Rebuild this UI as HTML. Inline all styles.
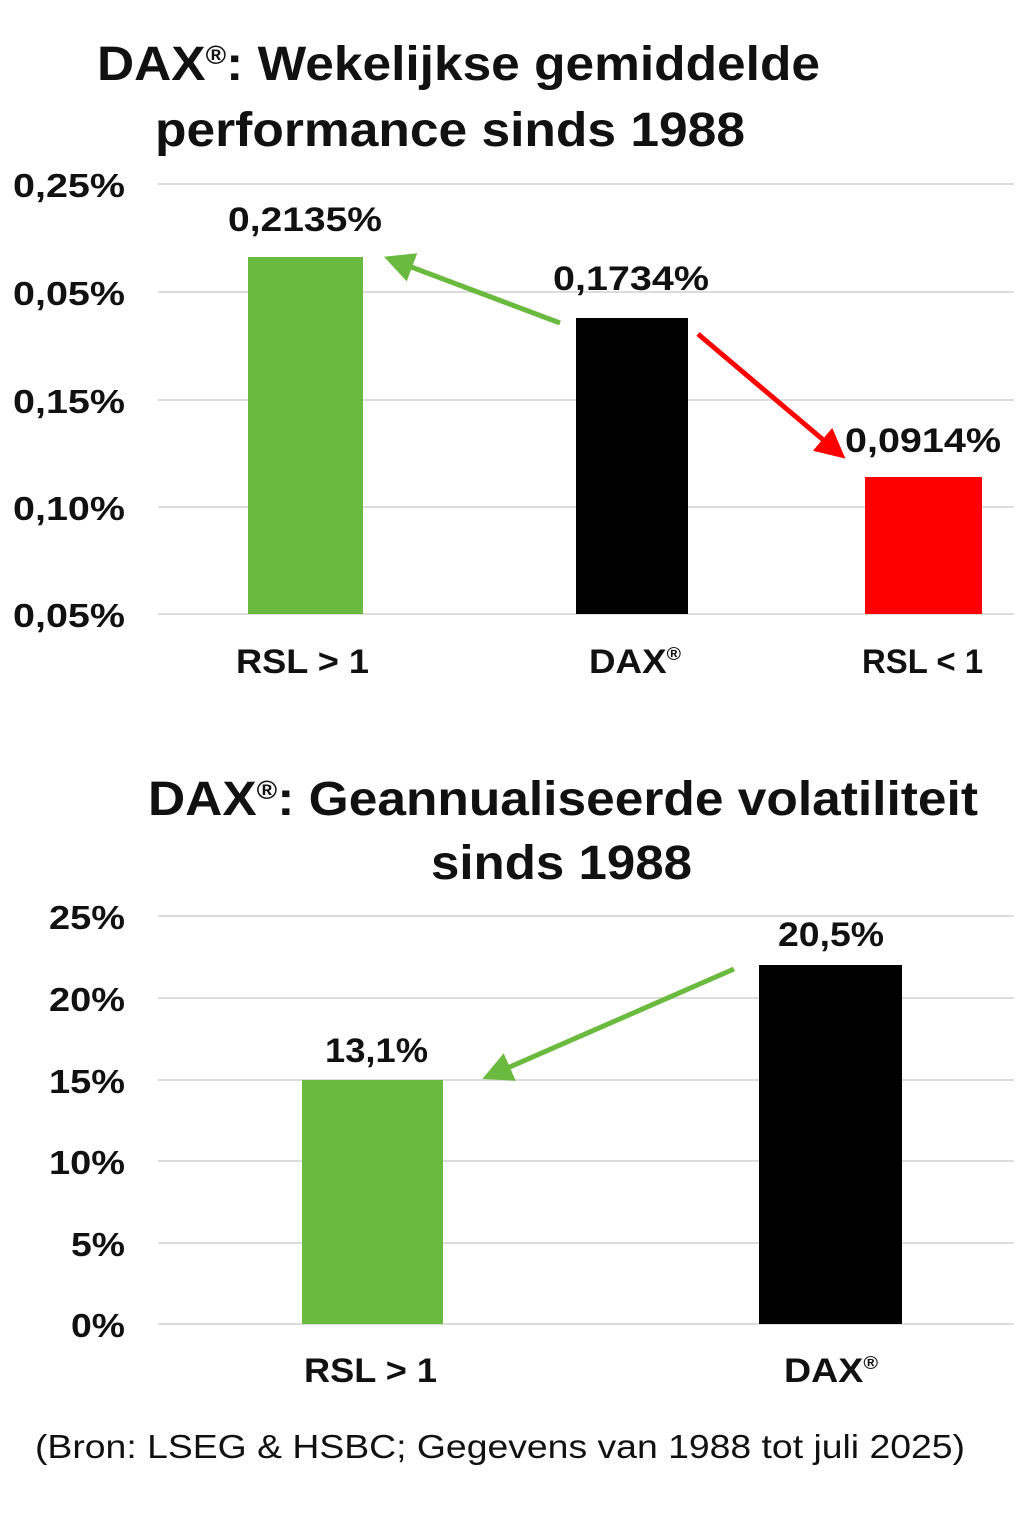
<!DOCTYPE html>
<html><head><meta charset="utf-8"><style>
html,body{margin:0;padding:0;background:#fff;}
svg{display:block;}
text{font-family:"Liberation Sans",sans-serif;fill:#111;}
</style></head><body>
<svg width="1024" height="1536" viewBox="0 0 1024 1536">
<defs>
<marker id="ag" markerWidth="6" markerHeight="6" refX="3" refY="3" orient="auto" markerUnits="strokeWidth"><path d="M0,0 L6,3 L0,6 z" fill="#6aba3f"/></marker>
<marker id="ar" markerWidth="6" markerHeight="6" refX="3" refY="3" orient="auto" markerUnits="strokeWidth"><path d="M0,0 L6,3 L0,6 z" fill="#ff0000"/></marker>
</defs>
<text x="97" y="80" font-size="48" font-weight="bold" textLength="723" lengthAdjust="spacingAndGlyphs">DAX<tspan font-size="26" dy="-16">®</tspan><tspan dy="16">: Wekelijkse gemiddelde</tspan></text>
<text x="155" y="146" font-size="48" font-weight="bold" textLength="590" lengthAdjust="spacingAndGlyphs">performance sinds 1988</text>
<g stroke="#dcdcdc" stroke-width="2">
<line x1="158" y1="184" x2="1014" y2="184"/><line x1="158" y1="292" x2="1014" y2="292"/>
<line x1="158" y1="400" x2="1014" y2="400"/><line x1="158" y1="507" x2="1014" y2="507"/>
<line x1="158" y1="614" x2="1014" y2="614"/>
</g>
<g font-size="33" font-weight="bold">
<text x="13" y="197" textLength="112" lengthAdjust="spacingAndGlyphs">0,25%</text>
<text x="13" y="305" textLength="112" lengthAdjust="spacingAndGlyphs">0,05%</text>
<text x="13" y="413" textLength="112" lengthAdjust="spacingAndGlyphs">0,15%</text>
<text x="13" y="520" textLength="112" lengthAdjust="spacingAndGlyphs">0,10%</text>
<text x="13" y="627" textLength="112" lengthAdjust="spacingAndGlyphs">0,05%</text>
</g>
<rect x="248" y="257" width="115" height="357" fill="#6aba3f"/>
<rect x="576" y="318" width="112" height="296" fill="#000"/>
<rect x="865" y="477" width="117" height="137" fill="#ff0000"/>
<g font-size="34" font-weight="bold">
<text x="228" y="231" textLength="154" lengthAdjust="spacingAndGlyphs">0,2135%</text>
<text x="553" y="290" textLength="156" lengthAdjust="spacingAndGlyphs">0,1734%</text>
<text x="845" y="452" textLength="156" lengthAdjust="spacingAndGlyphs">0,0914%</text>
</g>
<line x1="560" y1="323" x2="398" y2="262" stroke="#6aba3f" stroke-width="5" marker-end="url(#ag)"/>
<line x1="698" y1="334" x2="834" y2="449" stroke="#ff0000" stroke-width="5" marker-end="url(#ar)"/>
<g font-size="34" font-weight="bold">
<text x="236" y="673" textLength="133" lengthAdjust="spacingAndGlyphs">RSL &gt; 1</text>
<text x="589" y="673" textLength="92" lengthAdjust="spacingAndGlyphs">DAX<tspan font-size="18" dy="-13">®</tspan></text>
<text x="862" y="673" textLength="121" lengthAdjust="spacingAndGlyphs">RSL &lt; 1</text>
</g>
<text x="148" y="815" font-size="48" font-weight="bold" textLength="830" lengthAdjust="spacingAndGlyphs">DAX<tspan font-size="26" dy="-16">®</tspan><tspan dy="16">: Geannualiseerde volatiliteit</tspan></text>
<text x="431" y="879" font-size="48" font-weight="bold" textLength="261" lengthAdjust="spacingAndGlyphs">sinds 1988</text>
<g stroke="#dcdcdc" stroke-width="2">
<line x1="158" y1="916" x2="1014" y2="916"/><line x1="158" y1="998" x2="1014" y2="998"/>
<line x1="158" y1="1080" x2="1014" y2="1080"/><line x1="158" y1="1161" x2="1014" y2="1161"/>
<line x1="158" y1="1243" x2="1014" y2="1243"/><line x1="158" y1="1324" x2="1014" y2="1324"/>
</g>
<g font-size="33" font-weight="bold">
<text x="49" y="929" textLength="76" lengthAdjust="spacingAndGlyphs">25%</text>
<text x="49" y="1011" textLength="76" lengthAdjust="spacingAndGlyphs">20%</text>
<text x="49" y="1093" textLength="76" lengthAdjust="spacingAndGlyphs">15%</text>
<text x="49" y="1174" textLength="76" lengthAdjust="spacingAndGlyphs">10%</text>
<text x="71" y="1256" textLength="54" lengthAdjust="spacingAndGlyphs">5%</text>
<text x="71" y="1337" textLength="54" lengthAdjust="spacingAndGlyphs">0%</text>
</g>
<rect x="302" y="1080" width="141" height="244" fill="#6aba3f"/>
<rect x="759" y="965" width="143" height="359" fill="#000"/>
<g font-size="34" font-weight="bold">
<text x="325" y="1062" textLength="103" lengthAdjust="spacingAndGlyphs">13,1%</text>
<text x="778" y="946" textLength="106" lengthAdjust="spacingAndGlyphs">20,5%</text>
</g>
<line x1="734" y1="969" x2="496" y2="1073" stroke="#6aba3f" stroke-width="5" marker-end="url(#ag)"/>
<g font-size="34" font-weight="bold">
<text x="304" y="1382" textLength="133" lengthAdjust="spacingAndGlyphs">RSL &gt; 1</text>
<text x="784" y="1382" textLength="94" lengthAdjust="spacingAndGlyphs">DAX<tspan font-size="18" dy="-13">®</tspan></text>
</g>
<text x="35" y="1458" font-size="33" textLength="930" lengthAdjust="spacingAndGlyphs">(Bron: LSEG &amp; HSBC; Gegevens van 1988 tot juli 2025)</text>
</svg>
</body></html>
